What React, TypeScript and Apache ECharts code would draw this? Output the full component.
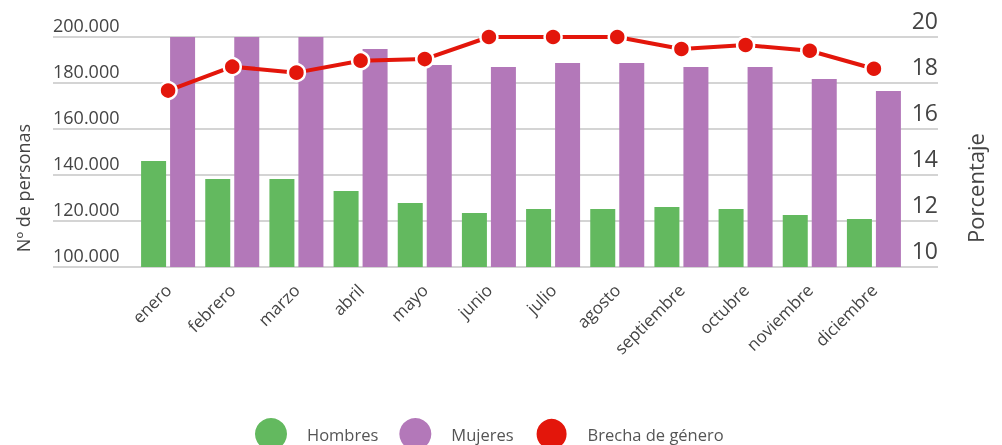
import React, { useEffect, useRef } from "react";
import * as echarts from "echarts";

const months = ["enero", "febrero", "marzo", "abril", "mayo", "junio", "julio", "agosto", "septiembre", "octubre", "noviembre", "diciembre"];
const hombres = [146100, 138300, 138300, 133000, 127800, 123500, 125200, 125200, 126100, 125200, 122600, 120900];
const mujeres = [204000, 203000, 203000, 194800, 187800, 187000, 188700, 188700, 187000, 187000, 181700, 176500];
const brecha = [17.67, 18.71, 18.45, 18.97, 19.04, 20.0, 20.0, 20.0, 19.48, 19.65, 19.4, 18.62];

const FONT = "'Open Sans', sans-serif";

export default function App() {
  const ref = useRef<HTMLDivElement>(null);
  useEffect(() => {
    if (!ref.current) return;
    const chart = echarts.init(ref.current, null, { renderer: "svg" });
    chart.setOption({
      animation: false,
      textStyle: { fontFamily: FONT },
      grid: [
        { left: 53, right: 64, top: 37, bottom: 178 },
        { left: 136, right: 96, top: 37, bottom: 178 },
      ],
      legend: {
        top: 417,
        left: 255,
        padding: 0,
        icon: "circle",
        itemWidth: 32,
        itemHeight: 32,
        itemGap: 21,
        textStyle: { fontSize: 16.5, color: "#555", fontFamily: FONT, padding: [0, 0, 0, 15] },
        data: ["Hombres", "Mujeres", "Brecha de género"],
      },
      xAxis: [
        { gridIndex: 0, type: "value", min: 0, max: 1, show: false },
        {
          gridIndex: 1,
          type: "category",
          data: months,
          axisLine: { show: false },
          axisTick: { show: false },
          axisLabel: { rotate: 45, margin: 20, fontSize: 17, color: "#444", fontFamily: FONT, interval: 0 },
        },
      ],
      yAxis: [
        {
          gridIndex: 0,
          type: "value",
          min: 100000,
          max: 200000,
          interval: 20000,
          axisLabel: { show: false },
          axisLine: { show: false },
          axisTick: { show: false },
          splitLine: { show: true, lineStyle: { color: "#d4d4d4", width: 2 } },
        },
        {
          gridIndex: 1,
          type: "value",
          min: 100000,
          max: 200000,
          interval: 20000,
          name: "Nº de personas",
          nameLocation: "middle",
          nameGap: 104,
          nameTextStyle: { fontSize: 18, color: "#444", fontFamily: FONT, padding: [0, 72, 0, 0] },
          axisLine: { show: false },
          axisTick: { show: false },
          splitLine: { show: false },
          axisLabel: {
            margin: 83,
            align: "left",
            verticalAlign: "bottom",
            padding: [0, 0, 3, 0],
            fontSize: 18,
            color: "#444",
            fontFamily: FONT,
            formatter: (v: number) => (v / 1000).toFixed(0) + ".000",
          },
        },
        {
          gridIndex: 1,
          type: "value",
          position: "right",
          min: 10,
          max: 20,
          interval: 2,
          name: "Porcentaje",
          nameLocation: "middle",
          nameGap: 58,
          nameTextStyle: { fontSize: 22, color: "#444", fontFamily: FONT, padding: [0, 72, 0, 0] },
          axisLine: { show: false },
          axisTick: { show: false },
          splitLine: { show: false },
          axisLabel: {
            margin: 32,
            align: "right",
            verticalAlign: "bottom",
            padding: [0, 0, 6, 0],
            fontSize: 23,
            color: "#444",
            fontFamily: FONT,
          },
        },
      ],
      series: [
        {
          name: "Hombres",
          type: "bar",
          xAxisIndex: 1,
          yAxisIndex: 1,
          data: hombres,
          barWidth: 25,
          barGap: "16%",
          itemStyle: { color: "#63b95f" },
        },
        {
          name: "Mujeres",
          type: "bar",
          xAxisIndex: 1,
          yAxisIndex: 1,
          data: mujeres,
          barWidth: 25,
          barGap: "16%",
          itemStyle: { color: "#b378b9" },
        },
        {
          name: "Brecha de género",
          type: "line",
          xAxisIndex: 1,
          yAxisIndex: 2,
          data: brecha,
          symbol: "circle",
          symbolSize: 17,
          z: 5,
          lineStyle: { color: "#e3160b", width: 4 },
          itemStyle: { color: "#e3160b", borderColor: "#fff", borderWidth: 2.5 },
        },
      ],
    });
    return () => chart.dispose();
  }, []);
  return <div ref={ref} style={{ position: "fixed", left: 0, top: 0, width: 1002, height: 445 }} />;
}
